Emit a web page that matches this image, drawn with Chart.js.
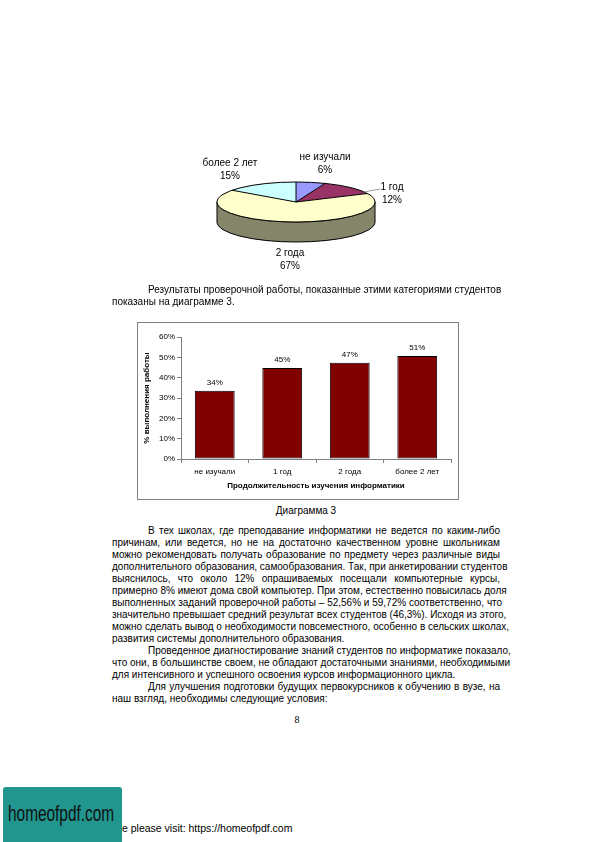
<!DOCTYPE html>
<html lang="ru">
<head>
<meta charset="utf-8">
<script src="https://cdn.jsdelivr.net/npm/chart.js@4/dist/chart.umd.min.js"></script>
<style>
  html, body { margin:0; padding:0; background:#fff; }
  #page { position:relative; width:596px; height:842px; overflow:hidden; font-family:"Liberation Sans", Arial, sans-serif; color:#000; }
  .txt { position:absolute; left:112px; width:388px; font-size:10px; }
  .ln { height:12px; line-height:12px; white-space:nowrap; text-align:justify; text-align-last:justify; }
  .ln.last { text-align:left; text-align-last:left; }
  .ln.ind { padding-left:36px; }
  #pieWrap { position:absolute; left:166px; top:102px; width:260px; height:200px; }
  #barWrap { position:absolute; left:137px; top:322px; width:320px; height:176px; border:1px solid #808080; }
  #cap { position:absolute; left:112px; width:388px; top:505px; height:12px; line-height:12px; font-size:10px; text-align:center; }
  #pnum { position:absolute; left:287px; width:20px; top:714px; font-family:"Liberation Serif", "Times New Roman", serif; font-size:10px; text-align:center; line-height:12px; }
  #wm { position:absolute; left:3px; top:787px; width:119px; height:60px; background:#21968f; border-radius:3px; }
  #wmt { position:absolute; left:8px; top:801px; font-family:"Liberation Sans", sans-serif; font-size:22px; color:#111; transform:scaleX(0.7); transform-origin:0 0; white-space:nowrap; }
  #visit { position:absolute; left:122px; top:822px; font-size:10.5px; line-height:12px; color:#000; }
</style>
</head>
<body>
<div id="page">
  <div id="pieWrap"><canvas id="pie" width="260" height="200"></canvas></div>

  <div class="txt" style="top:284px;">
    <div class="ln ind">Результаты проверочной работы, показанные этими категориями студентов</div>
    <div class="ln last">показаны на диаграмме 3.</div>
  </div>

  <div id="barWrap"><canvas id="bar" width="320" height="176"></canvas></div>
  <div id="cap">Диаграмма 3</div>

  <div class="txt" style="top:525px;">
    <div class="ln ind">В тех школах, где преподавание информатики не ведется по каким-либо</div>
    <div class="ln">причинам, или ведется, но не на достаточно качественном уровне школьникам</div>
    <div class="ln">можно рекомендовать получать образование по предмету через различные виды</div>
    <div class="ln">дополнительного образования, самообразования. Так, при анкетировании студентов</div>
    <div class="ln">выяснилось, что около 12% опрашиваемых посещали компьютерные курсы,</div>
    <div class="ln">примерно 8% имеют дома свой компьютер. При этом, естественно повысилась доля</div>
    <div class="ln">выполненных заданий проверочной работы – 52,56% и 59,72% соответственно, что</div>
    <div class="ln">значительно превышает средний результат всех студентов (46,3%). Исходя из этого,</div>
    <div class="ln">можно сделать вывод о необходимости повсеместного, особенно в сельских школах,</div>
    <div class="ln last">развития системы дополнительного образования.</div>
    <div class="ln ind">Проведенное диагностирование знаний студентов по информатике показало,</div>
    <div class="ln">что они, в большинстве своем, не обладают достаточными знаниями, необходимыми</div>
    <div class="ln last">для интенсивного и успешного освоения курсов информационного цикла.</div>
    <div class="ln ind">Для улучшения подготовки будущих первокурсников к обучению в вузе, на</div>
    <div class="ln last">наш взгляд, необходимы следующие условия:</div>
  </div>

  <div id="pnum">8</div>
  <div id="wm"></div>
  <div id="wmt">homeofpdf.com</div>
  <div id="visit">e please visit: https://homeofpdf.com</div>
</div>

<script>
// ---------- data ----------
const pieLabels = ['не изучали', '1 год', '2 года', 'более 2 лет'];
const pieValues = [6, 12, 67, 15];

const barCategories = ['не изучали', '1 год', '2 года', 'более 2 лет'];
const barValues = [33.6, 44.7, 47.3, 50.6];
const yTickValues = [0, 10, 20, 30, 40, 50, 60];

// ---------- styles ----------
const pieColors = ['#9999FF', '#993366', '#FFFFCC', '#CCFFFF'];
const FONT = '"Liberation Sans", Arial, sans-serif';
Chart.defaults.font.family = FONT;
Chart.defaults.color = '#000';

function darken(hex, f) {
  const n = parseInt(hex.slice(1), 16);
  const r = Math.round(((n >> 16) & 255) * f), g = Math.round(((n >> 8) & 255) * f), b = Math.round((n & 255) * f);
  return 'rgb(' + r + ',' + g + ',' + b + ')';
}

// 3D tilt plugin for the pie
const TILT = 20 / 79, DEPTH = 20;
const pieLabelOffsets = [[29, -38], [96, -8], [-6, 58], [-66, -32]];
const pie3d = {
  id: 'pie3d',
  beforeDatasetsDraw(chart) {
    const ctx = chart.ctx;
    const meta = chart.getDatasetMeta(0);
    const a0 = meta.data[0];
    const cx = a0.x, cy = a0.y, rx = a0.outerRadius, ry = rx * TILT;
    meta.data.forEach((arc, i) => {
      const s = arc.startAngle, e = arc.endAngle;
      const segs = [[0, Math.PI], [2 * Math.PI, 3 * Math.PI], [-2 * Math.PI, -Math.PI]];
      segs.forEach(([lo, hi]) => {
        const a = Math.max(s, lo), b = Math.min(e, hi);
        if (b <= a) return;
        ctx.save();
        ctx.beginPath();
        ctx.moveTo(cx + rx * Math.cos(a), cy + ry * Math.sin(a));
        ctx.lineTo(cx + rx * Math.cos(a), cy + ry * Math.sin(a) + DEPTH);
        ctx.ellipse(cx, cy + DEPTH, rx, ry, 0, a, b, false);
        ctx.lineTo(cx + rx * Math.cos(b), cy + ry * Math.sin(b));
        ctx.ellipse(cx, cy, rx, ry, 0, b, a, true);
        ctx.closePath();
        ctx.fillStyle = darken(pieColors[i], 0.52);
        ctx.fill();
        ctx.lineWidth = 1;
        ctx.strokeStyle = '#000';
        ctx.stroke();
        ctx.restore();
      });
    });
    ctx.save();
    ctx.translate(cx, cy);
    ctx.scale(1, TILT);
    ctx.translate(-cx, -cy);
  },
  afterDatasetsDraw(chart) {
    const ctx = chart.ctx;
    ctx.restore();
    const meta = chart.getDatasetMeta(0);
    const a0 = meta.data[0];
    const cx = a0.x, cy = a0.y, rx = a0.outerRadius, ry = rx * TILT;
    ctx.save();
    ctx.lineWidth = 1;
    ctx.strokeStyle = '#000';
    ctx.beginPath();
    ctx.ellipse(cx, cy, rx, ry, 0, 0, 2 * Math.PI);
    ctx.stroke();
    meta.data.forEach(arc => {
      const a = arc.startAngle;
      ctx.beginPath();
      ctx.moveTo(cx, cy);
      ctx.lineTo(cx + rx * Math.cos(a), cy + ry * Math.sin(a));
      ctx.stroke();
    });
    ctx.strokeStyle = '#9a9a9a';
    ctx.beginPath();
    ctx.moveTo(cx + 68, cy - 10);
    ctx.lineTo(cx + 84, cy - 13);
    ctx.stroke();
    ctx.fillStyle = '#000';
    ctx.font = '10px ' + FONT;
    ctx.textAlign = 'center';
    ctx.textBaseline = 'middle';
    const total = pieValues.reduce((p, c) => p + c, 0);
    pieLabels.forEach((lab, i) => {
      const [dx, dy] = pieLabelOffsets[i];
      ctx.fillText(lab, cx + dx, cy + dy - 6.5);
      ctx.fillText(Math.round(pieValues[i] / total * 100) + '%', cx + dx, cy + dy + 6.5);
    });
    ctx.restore();
  }
};

new Chart(document.getElementById('pie'), {
  type: 'pie',
  data: {
    labels: pieLabels,
    datasets: [{ data: pieValues, backgroundColor: pieColors, borderWidth: 0, radius: 79 }]
  },
  options: {
    responsive: false,
    animation: false,
    devicePixelRatio: 1,
    radius: 79,
    layout: { padding: 0 },
    plugins: { legend: { display: false }, tooltip: { enabled: false } }
  },
  plugins: [pie3d]
});

const barValueLabels = {
  id: 'barValueLabels',
  afterDatasetsDraw(chart) {
    const ctx = chart.ctx;
    const meta = chart.getDatasetMeta(0);
    ctx.save();
    ctx.font = '8px ' + FONT;
    ctx.fillStyle = '#000';
    ctx.textAlign = 'center';
    ctx.textBaseline = 'bottom';
    meta.data.forEach((bar, i) => {
      ctx.fillText(Math.round(barValues[i]) + '%', bar.x, bar.y - 4);
    });
    ctx.restore();
  }
};

new Chart(document.getElementById('bar'), {
  type: 'bar',
  data: {
    labels: barCategories,
    datasets: [{
      data: barValues,
      backgroundColor: '#800000',
      borderColor: '#000',
      borderWidth: 1,
      borderSkipped: false,
      barPercentage: 0.59,
      categoryPercentage: 1
    }]
  },
  options: {
    responsive: false,
    animation: false,
    devicePixelRatio: 1,
    layout: { padding: { left: 0, right: 7, top: 14, bottom: 0 } },
    plugins: { legend: { display: false }, tooltip: { enabled: false } },
    scales: {
      x: {
        grid: { display: true, drawOnChartArea: false, drawTicks: true, tickLength: 4, color: '#808080', offset: true },
        border: { color: '#808080', width: 1 },
        ticks: { font: { size: 8 }, color: '#000', padding: 4, maxRotation: 0 },
        title: { display: true, text: 'Продолжительность изучения информатики', font: { size: 8, weight: 'bold' }, color: '#000', padding: { top: 0, bottom: 8 } },
        afterFit(scale) { scale.height = 40; }
      },
      y: {
        min: 0, max: 60,
        afterBuildTicks(scale) { scale.ticks = yTickValues.map(v => ({ value: v })); },
        grid: { display: true, drawOnChartArea: false, drawTicks: true, tickLength: 4, color: '#808080' },
        border: { color: '#808080', width: 1 },
        ticks: { font: { size: 8 }, color: '#000', padding: 2, callback: v => v + '%' },
        title: { display: true, text: '% выполнения работы', font: { size: 8, weight: 'bold' }, color: '#000', padding: { top: 4, bottom: 4 } },
        afterFit(scale) { scale.width = 43; }
      }
    }
  },
  plugins: [barValueLabels]
});
</script>
</body>
</html>
